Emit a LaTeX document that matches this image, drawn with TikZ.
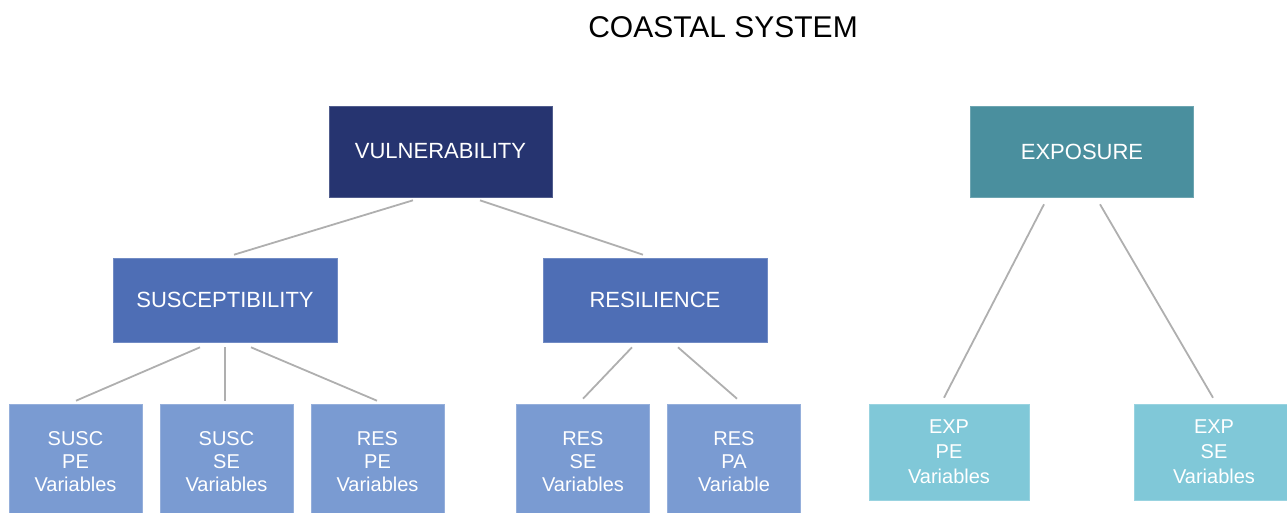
\documentclass[tikz,border=0pt]{standalone}
\usepackage{fontspec}
\setmainfont{Liberation Sans}
\definecolor{vulnblue}{HTML}{263470}
\definecolor{expteal}{HTML}{4A8F9E}
\definecolor{midblue}{HTML}{4E6EB5}
\definecolor{leafblue}{HTML}{7A9BD2}
\definecolor{leafteal}{HTML}{80C8D8}
\definecolor{linkgray}{HTML}{AFAFAF}
\tikzset{
  box/.style={inner sep=0pt, align=center, text=white, font=\fontsize{20}{23}\selectfont},
  topbox/.style={box, font=\fontsize{22}{25}\selectfont, minimum width=223pt, minimum height=91pt},
  midbox/.style={box, font=\fontsize{22}{25}\selectfont, fill=midblue, draw=midblue!80!white, line width=0.6pt, minimum width=224pt, minimum height=84pt},
  leafbox/.style={box, fill=leafblue, draw=leafblue!80!white, line width=0.6pt, minimum width=133pt, minimum height=116pt},
  expbox/.style={box, font=\fontsize{20}{25}\selectfont, fill=leafteal, draw=leafteal!80!white, line width=0.6pt, minimum width=160pt, minimum height=96pt},
  link/.style={draw=linkgray, line width=1.8pt},
}
\begin{document}
\begin{tikzpicture}[x=1pt, y=-1pt]
    \useasboundingbox (0,0) rectangle (1287,512);
    \node[font=\fontsize{30}{33}\selectfont] (title) at (723,27) {COASTAL SYSTEM};
    % top level
    \node[topbox, fill=vulnblue, draw=vulnblue!80!white, line width=0.6pt] (vuln) at (440.5,151.5) {VULNERABILITY};
    \node[topbox, fill=expteal, draw=expteal!80!white, line width=0.6pt] (exp) at (1082,151.5) {EXPOSURE};
    % second level
    \node[midbox] (susc) at (225,300) {SUSCEPTIBILITY};
    \node[midbox] (res) at (655,300) {RESILIENCE};
    % leaves (cut by the page edge)
    \node[leafbox] (suscpe) at (75.5,462) {SUSC\\PE\\Variables};
    \node[leafbox] (suscse) at (226.5,462) {SUSC\\SE\\Variables};
    \node[leafbox] (respe) at (377.5,462) {RES\\PE\\Variables};
    \node[leafbox] (resse) at (583,462) {RES\\SE\\Variables};
    \node[leafbox] (respa) at (734,462) {RES\\PA\\Variable};
    \node[expbox] (exppe) at (949,452) {EXP\\PE\\Variables};
    \node[expbox] (expse) at (1214,452) {EXP\\SE\\Variables};
    % links, kept clear of the boxes
    \draw[link] ([xshift=-27.5pt,yshift=-3pt]vuln.south) -- ([xshift=9pt,yshift=3pt]susc.north);
    \draw[link] ([xshift=39.5pt,yshift=-3pt]vuln.south) -- ([xshift=-12pt,yshift=3pt]res.north);
    \draw[link] ([xshift=-25pt,yshift=-5pt]susc.south) -- ([xshift=0.5pt,yshift=3pt]suscpe.north);
    \draw[link] ([yshift=-5pt]susc.south) -- ([xshift=-1.5pt,yshift=3pt]suscse.north);
    \draw[link] ([xshift=26pt,yshift=-5pt]susc.south) -- ([xshift=-0.5pt,yshift=3pt]respe.north);
    \draw[link] ([xshift=-23pt,yshift=-5pt]res.south) -- ([yshift=5pt]resse.north);
    \draw[link] ([xshift=23pt,yshift=-5pt]res.south) -- ([xshift=3pt,yshift=5pt]respa.north);
    \draw[link] ([xshift=-38pt,yshift=-7pt]exp.south) -- ([xshift=-5pt,yshift=6pt]exppe.north);
    \draw[link] ([xshift=18pt,yshift=-7pt]exp.south) -- ([xshift=-1pt,yshift=6pt]expse.north);
\end{tikzpicture}
\end{document}
